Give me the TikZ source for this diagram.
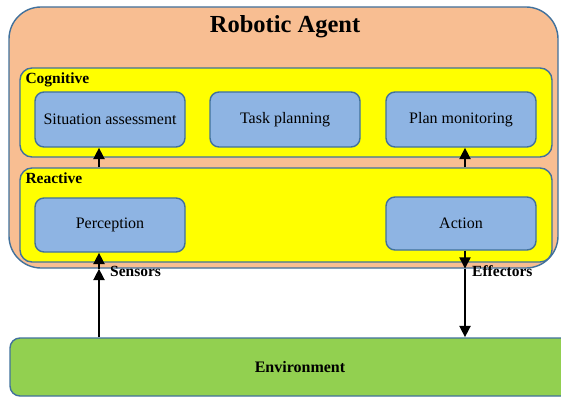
\documentclass[tikz,border=0pt]{standalone}
\usepackage{fontspec}
\setmainfont{Liberation Serif}
\usetikzlibrary{arrows.meta, positioning}

\definecolor{agentfill}{RGB}{248,190,146}
\definecolor{edgeblue}{RGB}{65,113,156}
\definecolor{layerfill}{RGB}{255,255,0}
\definecolor{taskfill}{RGB}{142,180,227}
\definecolor{envfill}{RGB}{146,208,80}

\begin{document}
\begin{tikzpicture}[x=1pt, y=-1pt,
  agent/.style={draw=edgeblue, fill=agentfill, line width=1.4pt, rounded corners=32pt, inner sep=0pt},
  layer/.style={draw=edgeblue, fill=layerfill, line width=1.4pt, rounded corners=12pt, minimum width=532pt, inner sep=0pt},
  task/.style={draw=edgeblue, fill=taskfill, line width=1.4pt, rounded corners=9pt, minimum width=150pt, minimum height=55pt, font=\fontsize{16}{18}\selectfont},
  tag/.style={font=\bfseries\fontsize{15.5}{17}\selectfont, inner sep=0pt},
  arrow/.style={-{Triangle[length=4mm, width=3.8mm]}, line width=2.6pt},
]
  \useasboundingbox (0,0) rectangle (561,398);
  \clip (0,0) rectangle (561,398);

  % agent and its two layers
  \node[agent, minimum width=549pt, minimum height=261pt] (agent) at (283.5,137.5) {};
  \node[font=\bfseries\fontsize{24.5}{28}\selectfont] (title) at (285,27) {Robotic Agent};
  \node[layer, minimum height=89pt] (cog) at (286,112.5) {};
  \node[layer, minimum height=94pt] (react) at (286,215) {};
  \node[tag, anchor=north west] (coglabel) at ([xshift=6pt,yshift=-5pt]cog.north west) {Cognitive};
  \node[tag, anchor=north west] (reactlabel) at ([xshift=6pt,yshift=-5pt]react.north west) {Reactive};

  \node[task] (sit) at (110,119.5) {Situation assessment};
  \node[task] (plan) at (285,119.5) {Task planning};
  \node[task] (mon) at (461,119.5) {Plan monitoring};
  \node[task, minimum height=54pt] (perc) at (110,225) {Perception};
  \node[task, minimum height=53pt] (act) at (461,223.5) {Action};

  \node[draw=edgeblue, fill=envfill, line width=1.4pt, rounded corners=10pt, minimum width=580pt, minimum height=58pt, font=\bfseries\fontsize{16}{18}\selectfont] (env) at (300,367) {Environment};

  % connectors
  \draw[arrow] ([xshift=-11pt]sit.south |- react.north) -- ([xshift=-11pt]sit.south);
  \draw[arrow] ([xshift=4pt]mon.south |- react.north) -- ([xshift=4pt]mon.south);
  \draw[arrow] ([xshift=-11pt]perc.south |- env.north) -- ([xshift=-11pt]perc.south |- agent.south);
  \draw[arrow] ([xshift=-11pt]perc.south |- agent.south) -- ([xshift=-11pt]perc.south);
  \draw[arrow] ([xshift=4pt]act.south) -- ([xshift=4pt]act.south |- agent.south);
  \draw[arrow] ([xshift=4pt]act.south |- agent.south) -- ([xshift=4pt]act.south |- env.north);

  \node[tag, anchor=west] (sensors) at (110,271) {Sensors};
  \node[tag, anchor=west] (effectors) at (472,271) {Effectors};
\end{tikzpicture}
\end{document}
